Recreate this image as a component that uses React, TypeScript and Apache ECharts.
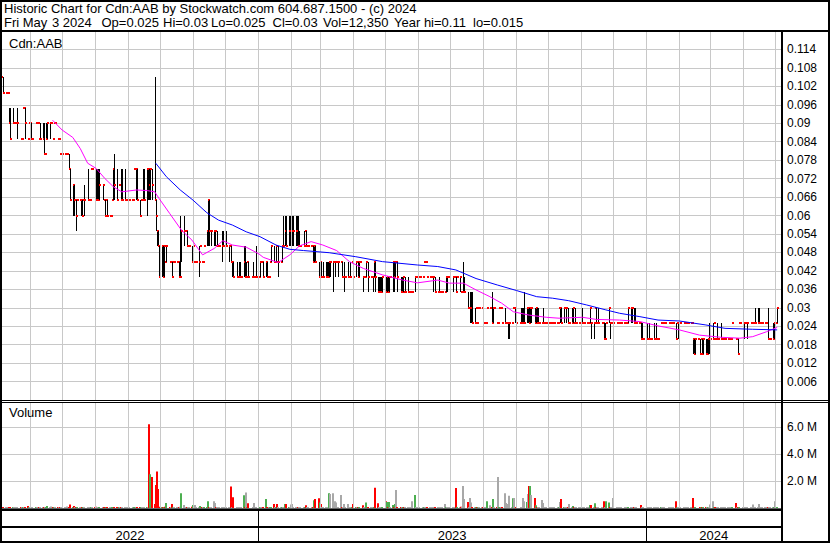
import React, { useEffect, useRef } from 'react';
import * as echarts from 'echarts';

const _ = null;

// ---- Header texts ----
const headerLine1 = 'Historic Chart for Cdn:AAB by Stockwatch.com 604.687.1500 - (c) 2024';
const headerLine2 = 'Fri May  3 2024  Op=0.025  Hi=0.03  Lo=0.025  Cl=0.03  Vol=12,350  Year hi=0.11  lo=0.015';
const symbolLabel = 'Cdn:AAB';
const volumeLabel = 'Volume';

// ---- Daily data, one line per month (trading days May 5 2022 .. May 3 2024) ----
const close = [
  .105, .10, .10, .10, .10, .09, .085, .09, .09, .09, .09, .09, .085, .085, .095, .095, .09, .085, .09, // May 22
  .09, .085, .085, .09, .09, .09, .085, .085, .085, .08, .08, .085, .09, .09, .09, .085, .09, .09, .085, .085, .08, .08, // Jun 22
  .08, .08, .08, .08, .075, .065, .07, .065, .065, .06, .065, .065, .065, .06, .065, .065, .065, .065, .065, .075, .075, // Jul 22
  .07, .065, .065, .065, .07, .07, .065, .06, .065, .06, .06, .06, .065, .075, .07, .065, .07, .07, .065, .065, .065, .065, .065, // Aug 22
  .065, .065, .065, .065, .075, .075, .065, .06, .065, .065, .065, .065, .075, .075, .07, .075, .07, .065, .06, .055, .05, .04, // Sep 22
  .05, .04, .05, .045, .05, .045, .045, .04, .045, .045, .045, .045, .04, .04, .055, .055, .055, .05, .05, .05, .045, // Oct 22
  .05, .045, .045, .045, .045, .05, .045, .045, .05, .055, .065, .055, .055, .055, .055, .055, .05, .05, .05, .05, .05, .05, // Nov 22
  .05, .05, .05, .05, .045, .045, .04, .04, .04, .04, .04, .04, .045, .04, .04, .045, .04, .04, .04, .04, .04, .04, // Dec 22
  .04, .045, .045, .045, .04, .045, .04, .04, .045, .05, .045, .045, .05, .045, .045, .045, .05, .05, .055, .05, .055, .055, // Jan 23
  .055, .055, .055, .055, .055, .05, .05, .05, .05, .055, .05, .05, .05, .05, .05, .045, .05, .045, .04, .045, // Feb 23
  .04, .04, .04, .04, .04, .04, .045, .045, .045, .045, .045, .045, .045, .045, .04, .04, .04, .04, .04, .04, .04, .045, .04, // Mar 23
  .045, .045, .04, .045, .045, .04, .04, .04, .045, .04, .04, .04, .04, .045, .04, .035, .035, .035, .035, .04, // Apr 23
  .035, .04, .035, .04, .04, .045, .04, .045, .045, .04, .035, .035, .04, .035, .035, .035, .035, .035, .035, .035, .04, .04, .04, // May 23
  .04, .04, .04, .045, .045, .045, .04, .04, .04, .04, .04, .035, .035, .035, .035, .035, .035, .035, .04, .04, .04, .04, // Jun 23
  .04, .04, .04, .035, .04, .04, .035, .035, .035, .035, .03, .03, .03, .03, .025, .025, .03, .025, .03, .03, .03, // Jul 23
  .025, .025, .025, .03, .03, .03, .025, .03, .03, .025, .025, .03, .03, .025, .025, .025, .025, .025, .025, .025, .03, .03, .03, // Aug 23
  .025, .025, .025, .025, .025, .025, .03, .03, .025, .03, .03, .025, .03, .025, .025, .025, .025, .025, .025, .025, .025, // Sep 23
  .025, .025, .025, .025, .025, .025, .025, .03, .03, .025, .03, .03, .03, .025, .025, .025, .03, .025, .025, .025, .025, .025, // Oct 23
  .025, .025, .025, .025, .025, .025, .03, .025, .025, .03, .025, .025, .025, .025, .025, .02, .02, .025, .03, .025, .025, .025, // Nov 23
  .025, .025, .025, .025, .025, .025, .025, .025, .025, .025, .03, .03, .03, .025, .025, .025, .025, .025, .02, .02, .02, // Dec 23
  .02, .02, .02, .02, .02, .02, .02, .02, .02, .02, .025, .025, .025, .025, .025, .025, .025, .025, .025, .025, .02, .025, .025, // Jan 24
  .025, .025, .025, .025, .025, .025, .025, .025, .025, .02, .015, .02, .02, .015, .02, .015, .02, .015, .015, .02, .02, // Feb 24
  .02, .02, .025, .02, .02, .02, .02, .02, .02, .02, .02, .02, .02, .02, .02, .025, .02, .02, .015, .025, .025, // Mar 24
  .025, .025, .025, .025, .025, .025, .025, .025, .025, .025, .025, .025, .025, .025, .025, .025, .025, .02, .02, .02, .02, .025, // Apr 24
  .025, .025, .03, // May 24
];

const high = [
  .11, .105, _, _, _, .095, .095, .095, _, _, _, .095, _, _, _, _, .095, _, _,
  _, .09, _, _, _, _, _, .09, .09, .09, _, .09, .09, .09, _, _, _, _, _, _, _, _,
  _, _, _, _, .08, .075, .07, .07, _, .065, _, _, .065, .065, _, .07, .075, _, _, _, _,
  .075, .075, .075, .075, .075, .07, _, .065, _, .065, _, _, _, .075, .08, .075, _, _, .075, .075, .075, _, _,
  _, _, _, _, _, .075, .075, .065, _, _, .075, .075, .075, .075, .075, .075, .075, .105, .065, .055, .055, .05,
  .05, .05, .05, _, .05, _, _, .045, _, _, _, _, .045, .06, .055, .06, _, .055, _, _, .05,
  _, _, _, _, .05, _, _, _, _, .055, .065, .065, _, .055, .055, .055, _, .055, _, .055, .055, _,
  _, .055, .05, _, .05, .045, .045, .045, _, .045, .045, _, .05, .05, .045, _, .045, _, .045, _, _, .05,
  _, .045, _, _, .045, .045, .045, _, _, .05, .05, _, .05, _, .05, _, .05, .06, .06, .06, .06, .06,
  .06, .06, .06, .06, .06, .06, .055, _, .055, _, .055, _, _, _, _, .05, .05, .05, .045, .045,
  .045, _, .045, .045, .045, .045, .045, .045, .045, .045, _, _, .045, _, .045, _, .045, _, .045, _, .045, _, _,
  .045, _, .045, .045, _, .04, _, _, .045, .045, _, _, .04, .045, .045, .04, .04, .04, .04, .04,
  .04, .04, .04, .04, _, .045, .045, .045, _, .045, .04, .04, .04, _, .04, .04, _, _, _, _, .04, _, _,
  _, _, _, _, _, _, _, _, _, _, .04, .04, _, .04, _, _, _, _, .04, .04, _, _,
  .04, _, _, .04, _, .04, _, _, .045, .04, .035, _, .035, .035, .035, .03, _, _, _, _, _,
  _, _, _, _, _, _, .035, .03, _, _, _, _, _, _, .03, _, _, .025, .025, _, _, _, .03,
  .03, _, .03, .03, .03, .035, .03, .03, .03, .03, .03, .03, .03, .03, .03, _, _, .03, _, _, _,
  _, _, _, _, _, _, _, _, .03, .03, .03, _, .03, .03, _, .03, .03, _, .03, _, _, _,
  _, .03, _, _, _, _, .03, .025, .025, _, .03, _, .03, _, _, .025, .025, _, .03, .025, _, _,
  .025, _, _, _, _, _, _, _, _, _, .03, .03, .03, .03, .03, _, _, _, .025, .025, _,
  _, .025, _, .025, _, .025, _, .025, _, _, _, _, _, _, _, _, _, _, _, _, .025, _, .025,
  _, _, _, _, _, _, _, _, _, .02, .02, .02, _, .02, _, .02, .02, .02, .02, .02, .025,
  _, .025, _, _, .025, _, .025, _, _, _, _, _, _, _, _, _, _, _, .02, _, _,
  _, .025, _, _, .025, _, _, _, _, .03, .03, .03, _, _, _, _, _, .03, _, _, .025, .025,
  .025, _, .03,
];

const low = [
  .105, .10, _, _, _, .09, .085, .09, _, _, _, .085, _, _, _, _, .085, _, _,
  _, .085, _, _, _, _, _, .085, .085, .08, _, .085, .085, .085, _, _, _, _, _, _, _, _,
  _, _, _, _, .075, .065, .06, .06, _, .055, _, _, .06, .06, _, .06, .065, _, _, _, _,
  .065, .065, .065, .065, .065, .065, _, .06, _, .06, _, _, _, .065, .065, .065, _, _, .065, .065, .065, _, _,
  _, _, _, _, _, .065, .065, .06, _, _, .065, .065, .06, .065, .065, .065, .065, .065, .055, .05, .05, .04,
  .04, .04, .04, _, .045, _, _, .04, _, _, _, _, .04, .04, .045, .05, _, .05, _, _, .045,
  _, _, _, _, .04, _, _, _, _, .05, .05, .05, _, .05, .05, .05, _, .05, _, .045, .05, _,
  _, .05, .045, _, .045, .04, .04, .04, _, .04, .04, _, .04, .04, .04, _, .04, _, .04, _, _, .04,
  _, .04, _, _, .04, .04, .04, _, _, .045, .045, _, .045, _, .04, _, .045, .05, .05, .05, .05, .05,
  .05, .05, .05, .05, .05, .05, .05, _, .05, _, .05, _, _, _, _, .045, .045, .045, .04, .04,
  .04, _, .04, .04, .04, .04, .04, .04, .035, .04, _, _, .04, _, .04, _, .035, _, .04, _, .04, _, _,
  .04, _, .04, .04, _, .035, _, _, .04, .035, _, _, .035, .04, .035, .035, .035, .035, .035, .035,
  .035, .035, .035, .035, _, .035, .035, .04, _, .035, .035, .035, .035, _, .035, .035, _, _, _, _, .035, _, _,
  _, _, _, _, _, _, _, _, _, _, .035, .035, _, .035, _, _, _, _, .035, .035, _, _,
  .035, _, _, .035, _, .035, _, _, .035, .035, .03, _, .025, .025, .025, .025, _, _, _, _, _,
  _, _, _, _, _, _, .025, .025, _, _, _, _, _, _, .025, _, _, .02, .02, _, _, _, .025,
  .025, _, .025, .025, .025, .025, .025, .025, .025, .025, .025, .025, .025, .025, .025, _, _, .025, _, _, _,
  _, _, _, _, _, _, _, _, .025, .025, .025, _, .025, .025, _, .025, .025, _, .025, _, _, _,
  _, .025, _, _, _, _, .025, .02, .02, _, .025, _, .025, _, _, .02, .02, _, .025, .02, _, _,
  .02, _, _, _, _, _, _, _, _, _, .025, .025, .025, .025, .025, _, _, _, .02, .02, _,
  _, .02, _, .02, _, .02, _, .02, _, _, _, _, _, _, _, _, _, _, _, _, .02, _, .02,
  _, _, _, _, _, _, _, _, _, .015, .015, .015, _, .015, _, .015, .015, .015, .015, .015, .015,
  _, .02, _, _, .02, _, .02, _, _, _, _, _, _, _, _, _, _, _, .015, _, _,
  _, .02, _, _, .02, _, _, _, _, .025, .025, .025, _, _, _, _, _, .02, _, _, .02, .02,
  .02, _, .025,
];

// volume in millions of shares
const volume = [
  .05, .04, .02, 0, .02, .05, .06, .04, .02, 0, .02, .06, .03, .02, .03, .02, .06, .15, .04,
  .03, .05, .02, .03, .02, 0, .03, .05, .05, .08, .02, .05, .15, .06, .12, .03, .03, .02, .03, .02, .04, .02,
  0, .02, .03, .12, .06, .25, .08, .15, .03, .06, .03, .02, .05, .05, .03, .05, .06, .02, .02, .04, .02,
  .06, .1, .05, .05, .05, .04, .03, .04, .02, .04, .02, .02, .03, .06, .08, .05, .03, .02, .05, .05, .05, .02, .02,
  .02, .02, 0, .02, .03, .05, .07, .04, .02, .02, .05, .05, .08, .08, 6.2, 2.5, 2.3, .3, 1.7, 2.7, 1.4, .1,
  .08, .06, .06, .1, .37, .03, .02, .3, .03, .02, .02, .03, .06, .1, 1.1, .22, .03, .05, .03, .02, .1,
  .22, .03, .22, .02, .06, .15, .03, .02, .03, .06, .5, .08, .03, .05, .5, .37, .03, .05, .02, .06, .05, .02,
  .02, .05, .05, .03, 1.6, .06, .8, .05, .02, .05, .05, .02, .95, .06, 1.15, .03, .35, 0, .06, .37, .03, .06,
  0, .06, .03, .02, .05, .67, .05, .02, .03, .06, .3, .02, .05, .3, .06, .02, .06, .08, .3, .3, .08, .08,
  .25, .3, .08, .08, .08, .08, .05, .02, .05, .03, .2, .03, .02, 0, .02, .05, .57, .67, .72, .4,
  .3, .03, .05, .05, .05, .05, 1.1, 1.04, 1.1, .5, .4, .03, .06, .96, .06, .03, .3, .02, .3, .02, .05, .03, .3,
  .06, .03, .05, .05, 0, .2, .03, .02, .4, .06, .02, .03, .06, .06, 1.5, .35, .06, .06, .06, .06,
  .5, .45, .06, .45, .03, .22, .06, .3, 1.33, .06, .05, .05, .05, .03, .05, .05, .02, .02, .03, .5, .96, .03, .02,
  .02, 0, .02, .03, .02, .02, .03, .02, .02, .03, .05, .05, .03, .05, .02, .02, .03, .3, .05, .05, .02, .03,
  .05, .02, .03, 1.48, .03, .05, .1, .02, 1.63, .67, .45, .03, .74, .4, .05, .05, .03, .03, .02, .02, .03,
  .03, .02, .03, .5, .2, .03, .06, .67, .03, .03, 2.3, .03, .02, .03, 1.1, .37, .3, .06, .9, .03, .72, .74, .05,
  .06, 0, .06, .06, .74, .5, .45, 1.04, 1.63, 1.63, .96, .74, .2, .06, .06, .03, .6, .37, .03, .03, .02,
  .02, .03, .02, .02, .03, 0, .03, .02, .45, .67, .03, .02, .05, .05, .3, .05, .15, .03, .05, .02, .03, .02,
  .03, .05, .02, .03, .02, .03, .22, .22, .06, .35, .05, .02, .05, .03, .02, .5, .05, .5, .4, .05, .03, .02,
  .74, .03, .02, .03, .02, .03, 0, .02, .03, .02, .06, .06, .06, .06, .06, .03, 0, 0, .22, .05, .03,
  0, .05, .03, .05, .02, .05, .03, .05, .02, .03, .03, .02, .02, .03, 0, .03, .02, .03, .02, .02, .5, .03, .05,
  .03, .02, .03, .02, .03, .02, .03, .02, .03, .74, .05, .05, 0, .05, .03, .05, .05, .05, .05, .05, .06,
  .25, .5, .04, .03, .05, .03, .05, .02, .03, .02, .03, .03, .02, .02, .03, .03, .37, .03, .06, .04, 0,
  .03, .05, .03, .02, .05, .03, .02, .25, .03, .06, .06, .3, .06, .02, .03, .02, .03, .06, .03, .02, .05, .05,
  .5, .03, .01235,
];

// moving averages
const maShort: [string, number][] = [
  ['2022-06-22', .091], ['2022-07-01', .0878], ['2022-07-11', .0854], ['2022-07-18', .0818], ['2022-07-25', .077],
  ['2022-08-02', .0753], ['2022-08-10', .0721], ['2022-08-18', .0694], ['2022-08-26', .0677], ['2022-09-09', .0683],
  ['2022-09-19', .0681], ['2022-09-26', .0677], ['2022-09-30', .0656], ['2022-10-10', .0607], ['2022-10-21', .0553],
  ['2022-10-31', .052], ['2022-11-10', .0472], ['2022-11-21', .0493], ['2022-11-29', .0518], ['2022-12-08', .0504],
  ['2022-12-21', .0497], ['2023-01-02', .0475], ['2023-01-06', .0464], ['2023-01-20', .0447], ['2023-01-31', .0472],
  ['2023-02-09', .0501], ['2023-02-20', .0515], ['2023-03-03', .0504], ['2023-03-16', .0486], ['2023-03-28', .045],
  ['2023-04-10', .0428], ['2023-04-28', .0407], ['2023-05-17', .039], ['2023-05-31', .0381], ['2023-06-19', .039],
  ['2023-06-30', .038], ['2023-07-13', .038], ['2023-07-25', .0358], ['2023-08-07', .0336], ['2023-08-18', .0315],
  ['2023-08-29', .0287], ['2023-09-13', .0276], ['2023-09-29', .0269], ['2023-10-11', .0266], ['2023-11-02', .0269],
  ['2023-11-15', .0262], ['2023-12-07', .026], ['2023-12-26', .0255], ['2024-01-12', .0241], ['2024-02-01', .0228],
  ['2024-02-20', .0211], ['2024-03-11', .0204], ['2024-03-29', .0201], ['2024-04-10', .0206], ['2024-04-23', .0222],
  ['2024-05-03', .0236],
];
const maLong: [string, number][] = [
  ['2022-09-27', .077], ['2022-10-07', .0726], ['2022-10-20', .0683], ['2022-11-01', .065], ['2022-11-14', .0609],
  ['2022-11-25', .0585], ['2022-12-08', .0569], ['2022-12-21', .0547], ['2023-01-03', .0531], ['2023-01-18', .0504],
  ['2023-01-31', .049], ['2023-02-13', .0486], ['2023-03-09', .0479], ['2023-04-03', .0466], ['2023-04-28', .045],
  ['2023-05-31', .0439], ['2023-06-19', .0434], ['2023-07-06', .0423], ['2023-07-25', .0395], ['2023-08-14', .0374],
  ['2023-09-01', .0356], ['2023-09-20', .0336], ['2023-10-05', .0331], ['2023-10-20', .0323], ['2023-11-06', .0309],
  ['2023-11-24', .0293], ['2023-12-07', .0282], ['2023-12-26', .0271], ['2024-01-12', .026], ['2024-02-01', .0257],
  ['2024-02-26', .0244], ['2024-03-15', .0233], ['2024-04-10', .023], ['2024-05-03', .0228],
];

const monthStarts = [
  '2022-06-01', '2022-07-01', '2022-08-01', '2022-09-01', '2022-10-01', '2022-11-01', '2022-12-01',
  '2023-01-01', '2023-02-01', '2023-03-01', '2023-04-01', '2023-05-01', '2023-06-01', '2023-07-01',
  '2023-08-01', '2023-09-01', '2023-10-01', '2023-11-01', '2023-12-01', '2024-01-01', '2024-02-01',
  '2024-03-01', '2024-04-01', '2024-05-01',
];
const yearStarts = ['2023-01-01', '2024-01-01'];
const yearLabels = ['2022', '2023', '2024'];

const ts = (s: string) => {
  const [y, m, d] = s.split('-').map(Number);
  return new Date(y, m - 1, d).getTime();
};
function tradingDays(start: string, end: string): number[] {
  const out: number[] = [];
  const d = new Date(ts(start));
  const e = ts(end);
  while (d.getTime() <= e) {
    const wd = d.getDay();
    if (wd !== 0 && wd !== 6) out.push(d.getTime());
    d.setDate(d.getDate() + 1);
  }
  return out;
}

// layout: left edge (px) of each double-space-separated field of header line 2
const HDR2_X = [4, 52, 101.5, 163, 211, 272.5, 323, 394, 473];

const X_MIN = new Date(2022, 4, 5, 12).getTime();
const X_MAX = new Date(2024, 4, 6, 14).getTime();

export default function App() {
  const ref = useRef<HTMLDivElement>(null);
  useEffect(() => {
    document.body.style.margin = '0';
    if (!ref.current) return;
    const chart = echarts.init(ref.current, undefined, { renderer: 'svg' });
    const dates = tradingDays('2022-05-05', '2024-05-03');
    const priceData = dates.map((t, i) => {
      const c = close[i];
      const h = high[i] ?? c;
      const l = low[i] ?? c;
      return [t, c, h, l];
    });
    const volData = dates
      .map((t, i) => [t, volume[i], i === 0 ? 0 : Math.sign(close[i] - close[i - 1])])
      .filter((d) => (d[1] as number) > 0);

    const font = 'Liberation Sans, Arial, sans-serif';
    const gridLine = { color: '#c8c8c8', width: 1, type: 'solid' as const };
    const mkMonthLines = {
      silent: true,
      symbol: ['none', 'none'],
      label: { show: false },
      lineStyle: gridLine,
      emphasis: { disabled: true },
      animation: false,
      data: monthStarts.map((d) => ({ xAxis: ts(d) })),
    };
    const timeAxis = (gridIndex: number) => ({
      type: 'time',
      gridIndex,
      min: X_MIN,
      max: X_MAX,
      axisLine: { show: false },
      axisTick: { show: false },
      axisLabel: { show: false },
      splitLine: { show: false },
    });

    const yearAreas = yearLabels.map((name, i) => {
      const start = i === 0 ? X_MIN : ts(yearStarts[i - 1]);
      const end = i === yearLabels.length - 1 ? X_MAX : ts(yearStarts[i]);
      return [
        { name, xAxis: start, yAxis: 0 },
        { xAxis: end, yAxis: 15 },
      ];
    });

    const rect = (x: number, y: number, w: number, h: number) => ({
      type: 'rect',
      z: 100,
      silent: true,
      shape: { x, y, width: w, height: h },
      style: { fill: '#000' },
    });
    const text = (t: string, x: number, y: number, size: number) => ({
      type: 'text',
      z: 100,
      silent: true,
      x,
      y,
      style: {
        text: t,
        fill: '#000',
        fontSize: size,
        fontFamily: font,
        verticalAlign: 'top',
        textVerticalAlign: 'top',
      },
    });

    const hdr2Fields = headerLine2.split(/\s{2,}/);
    const hdr2Texts = hdr2Fields.map((f, i) => text(f, HDR2_X[i] ?? 4, 16, 13));

    chart.setOption({
      animation: false,
      backgroundColor: '#fff',
      textStyle: { fontFamily: font },
      grid: [
        { left: 2, top: 31, width: 779, height: 369 },
        { left: 2, top: 402, width: 779, height: 106 },
        { left: 2, top: 509, width: 779, height: 34 },
      ],
      xAxis: [timeAxis(0), timeAxis(1), timeAxis(2)],
      yAxis: [
        {
          type: 'value',
          gridIndex: 0,
          position: 'right',
          min: 0,
          max: 0.12,
          interval: 0.006,
          axisLine: { show: false },
          axisTick: { show: false },
          splitLine: { show: true, lineStyle: gridLine },
          axisLabel: {
            margin: 6,
            color: '#000',
            fontSize: 12,
            fontFamily: font,
            formatter: (v: number) => (v > 0.001 && v < 0.1195 ? String(+v.toFixed(3)) : ''),
          },
        },
        {
          type: 'value',
          gridIndex: 1,
          position: 'right',
          min: 0,
          max: 7.85,
          interval: 2,
          axisLine: { show: false },
          axisTick: { show: false },
          splitLine: { show: true, lineStyle: gridLine },
          axisLabel: {
            margin: 6,
            color: '#000',
            fontSize: 12,
            fontFamily: font,
            formatter: (v: number) => (v > 0.5 && v < 7 ? v.toFixed(1) + ' M' : ''),
          },
        },
        {
          type: 'value',
          gridIndex: 2,
          min: 0,
          max: 34,
          show: false,
        },
      ],
      series: [
        {
          type: 'line',
          xAxisIndex: 0,
          yAxisIndex: 0,
          data: [],
          z: 1,
          markLine: mkMonthLines,
        },
        {
          type: 'line',
          xAxisIndex: 1,
          yAxisIndex: 1,
          data: [],
          z: 1,
          markLine: mkMonthLines,
        },
        {
          type: 'line',
          xAxisIndex: 2,
          yAxisIndex: 2,
          data: [],
          z: 1,
          markLine: {
            silent: true,
            symbol: ['none', 'none'],
            label: { show: false },
            lineStyle: { color: '#000', width: 1, type: 'solid' },
            data: yearStarts.map((d) => ({ xAxis: ts(d) })),
          },
          markArea: {
            silent: true,
            itemStyle: { color: 'rgba(0,0,0,0)' },
            label: {
              show: true,
              position: 'inside',
              color: '#000',
              fontSize: 13,
              fontFamily: font,
            },
            data: yearAreas,
          },
        },
        {
          type: 'custom',
          xAxisIndex: 0,
          yAxisIndex: 0,
          z: 3,
          silent: true,
          clip: true,
          encode: { x: 0, y: [1, 2, 3] },
          data: priceData,
          renderItem: (params: any, api: any) => {
            const t = api.value(0);
            const c = api.value(1);
            const h = api.value(2);
            const l = api.value(3);
            const pc = api.coord([t, c]);
            const x = Math.round(pc[0]) + 0.5;
            const children: any[] = [];
            if (h > l) {
              const ph = api.coord([t, h]);
              const pl = api.coord([t, l]);
              children.push({
                type: 'line',
                shape: { x1: x, y1: Math.round(ph[1]), x2: x, y2: Math.round(pl[1]) },
                style: { stroke: '#000', lineWidth: 1 },
              });
            }
            children.push({
              type: 'rect',
              shape: { x: x - 0.5, y: Math.round(pc[1]) - 1, width: 2, height: 2 },
              style: { fill: '#ff0000' },
            });
            return { type: 'group', children };
          },
        },
        {
          type: 'line',
          xAxisIndex: 0,
          yAxisIndex: 0,
          z: 5,
          silent: true,
          showSymbol: false,
          data: maShort.map(([d, v]) => [ts(d), v]),
          lineStyle: { color: '#ff00ff', width: 1 },
        },
        {
          type: 'line',
          xAxisIndex: 0,
          yAxisIndex: 0,
          z: 5,
          silent: true,
          showSymbol: false,
          data: maLong.map(([d, v]) => [ts(d), v]),
          lineStyle: { color: '#0000ff', width: 1 },
        },
        {
          type: 'custom',
          xAxisIndex: 1,
          yAxisIndex: 1,
          z: 3,
          silent: true,
          clip: true,
          encode: { x: 0, y: 1 },
          data: volData,
          renderItem: (params: any, api: any) => {
            const t = api.value(0);
            const v = api.value(1);
            const dir = api.value(2);
            const p0 = api.coord([t, 0]);
            const p1 = api.coord([t, v]);
            const x = Math.round(p0[0]);
            const hgt = Math.max(p0[1] - p1[1], 1);
            const fill = dir > 0 ? '#4caf50' : dir < 0 ? '#ff0000' : '#a8a8a8';
            return {
              type: 'rect',
              shape: { x: x - 1, y: p0[1] - hgt, width: 2, height: hgt },
              style: { fill },
            };
          },
        },
      ],
      graphic: [
        text(headerLine1, 4, 2, 13),
        ...hdr2Texts,
        text(symbolLabel, 9, 37, 13),
        text(volumeLabel, 9, 406, 13),
        rect(0, 0, 830, 2),
        rect(0, 30, 830, 2),
        rect(0, 0, 2, 543),
        rect(828, 0, 2, 543),
        rect(781, 30, 2, 513),
        rect(0, 400, 830, 1),
        rect(0, 402, 830, 1),
        rect(0, 508.5, 781, 2.5),
        rect(0, 526, 781, 2),
        rect(0, 541, 830, 2),
      ],
    });
    return () => chart.dispose();
  }, []);
  return <div ref={ref} style={{ width: 830, height: 543 }} />;
}
